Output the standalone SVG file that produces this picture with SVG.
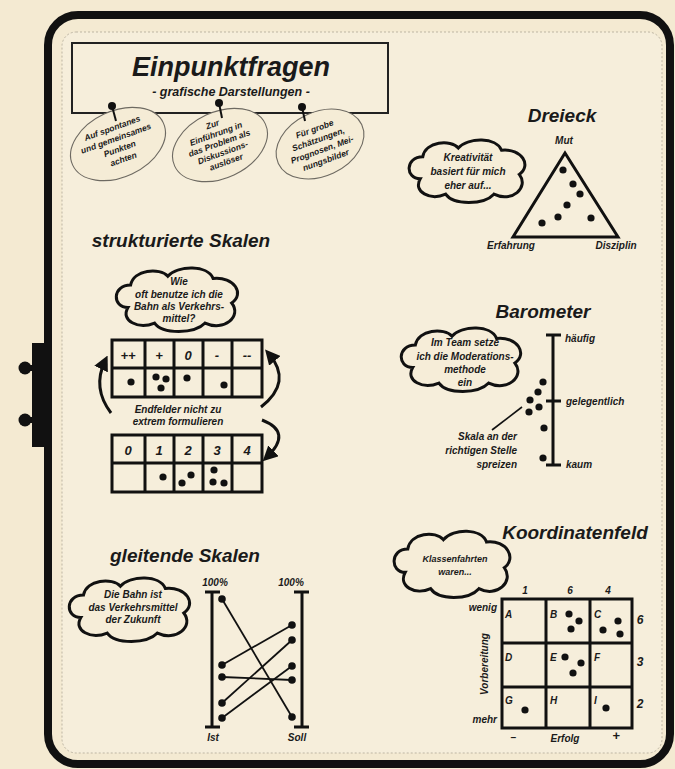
<svg xmlns="http://www.w3.org/2000/svg" width="675" height="769" viewBox="0 0 675 769">
<style>
text{font-family:"Liberation Sans",Arial,sans-serif;font-style:italic;font-weight:bold;fill:#1a1a1a}
.h{font-size:19px}
.s{font-size:10px}
.e{font-size:8.5px}
.m{text-anchor:middle}
.r{text-anchor:end}
.thick{fill:none;stroke:#111;stroke-width:3}
.thin{fill:none;stroke:#111;stroke-width:1.6}
.dot{fill:#111}
.ell{fill:#f5ecd6;stroke:#6e6a62;stroke-width:1.1}
.cl{fill:#f6edd8;stroke:#111;stroke-width:3}
</style>
<defs>
<symbol id="cloud" viewBox="0 0 100 60" preserveAspectRatio="none" overflow="visible">
<path class="cl" vector-effect="non-scaling-stroke" d="M12,38 C0,38 0,18 14,18 C16,4 36,2 42,10 C50,0 72,0 76,12 C92,10 100,26 90,34 C98,46 84,60 70,52 C62,62 38,62 32,52 C20,58 6,50 12,38 Z"/>
</symbol>
<marker id="ah" viewBox="0 0 10 10" refX="6" refY="5" markerWidth="5" markerHeight="5" orient="auto">
<path d="M0,0 L10,5 L0,10 Z" fill="#111"/>
</marker>
</defs>

<rect width="675" height="769" fill="#f4ead2"/>

<g id="frame">
<rect x="62" y="32" width="600" height="721" rx="14" fill="#f6eedb" stroke="#bdb5a3" stroke-width="1" stroke-dasharray="2 2"/>
<rect x="48" y="15" width="622" height="749" rx="30" fill="none" stroke="#111" stroke-width="8"/>
<rect x="32" y="343" width="16" height="104" fill="#111"/>
<rect x="24" y="365" width="10" height="6" fill="#111"/>
<rect x="24" y="417" width="10" height="6" fill="#111"/>
<circle cx="25" cy="368" r="6.5" fill="#111"/>
<circle cx="25" cy="420" r="6.5" fill="#111"/>
</g>

<g id="title">
<rect x="72" y="43" width="316" height="70" fill="none" stroke="#222" stroke-width="2"/>
<text x="231" y="76" class="m" style="font-size:27px">Einpunktfragen</text>
<text x="231" y="96" class="m" style="font-size:12.5px">- grafische Darstellungen -</text>
</g>

<g id="ellipse1">
<ellipse cx="118" cy="144" rx="50" ry="33" transform="rotate(-25 118 144)" class="ell"/>
<line x1="112" y1="106" x2="116" y2="121" stroke="#111" stroke-width="2"/>
<circle cx="112" cy="106" r="4" class="dot"/>
<g transform="rotate(-20 118 144)">
<text x="118" y="130" class="e m">Auf spontanes</text>
<text x="118" y="141" class="e m">und gemeinsames</text>
<text x="118" y="152" class="e m">Punkten</text>
<text x="118" y="163" class="e m">achten</text>
</g>
</g>

<g id="ellipse2">
<ellipse cx="220" cy="145" rx="50" ry="33" transform="rotate(-25 220 145)" class="ell"/>
<line x1="219" y1="103" x2="222" y2="118" stroke="#111" stroke-width="2"/>
<circle cx="219" cy="103" r="4" class="dot"/>
<g transform="rotate(-20 220 145)">
<text x="220" y="126" class="e m">Zur</text>
<text x="220" y="136" class="e m">Einführung in</text>
<text x="220" y="146" class="e m">das Problem als</text>
<text x="220" y="156" class="e m">Diskussions-</text>
<text x="220" y="166" class="e m">auslöser</text>
</g>
</g>

<g id="ellipse3">
<ellipse cx="320" cy="144" rx="46" ry="32" transform="rotate(-25 320 144)" class="ell"/>
<line x1="302" y1="107" x2="305" y2="121" stroke="#111" stroke-width="2"/>
<circle cx="302" cy="107" r="4" class="dot"/>
<g transform="rotate(-20 320 144)">
<text x="320" y="131" class="e m">Für grobe</text>
<text x="320" y="142" class="e m">Schätzungen,</text>
<text x="320" y="153" class="e m">Prognosen, Mei-</text>
<text x="320" y="164" class="e m">nungsbilder</text>
</g>
</g>

<g id="dreieck">
<text x="562" y="122" class="h m">Dreieck</text>
<use href="#cloud" x="405" y="137" width="127" height="66"/>
<text x="468" y="161" class="s m">Kreativität</text>
<text x="468" y="175" class="s m">basiert für mich</text>
<text x="468" y="189" class="s m">eher auf...</text>
<text x="564" y="144" class="s m">Mut</text>
<path d="M565,153 L513,237 L618,237 Z" class="thick" stroke-linejoin="miter"/>
<circle cx="563" cy="170" r="3.6" class="dot"/>
<circle cx="573" cy="184" r="3.6" class="dot"/>
<circle cx="580" cy="194" r="3.6" class="dot"/>
<circle cx="567" cy="205" r="3.6" class="dot"/>
<circle cx="558" cy="217" r="3.6" class="dot"/>
<circle cx="542" cy="223" r="3.6" class="dot"/>
<circle cx="591" cy="218" r="3.6" class="dot"/>
<text x="511" y="249" class="s m">Erfahrung</text>
<text x="616" y="249" class="s m">Disziplin</text>
</g>

<g id="strukturierte-skalen">
<text x="181" y="247" class="h m">strukturierte Skalen</text>
<use href="#cloud" x="112" y="265" width="133" height="67"/>
<text x="179" y="285" class="s m">Wie</text>
<text x="179" y="298" class="s m">oft benutze ich die</text>
<text x="179" y="310" class="s m">Bahn als Verkehrs-</text>
<text x="179" y="322" class="s m">mittel?</text>
<g id="table1">
<rect x="112" y="340" width="150" height="57" class="thick"/>
<path d="M112,368 H262 M145,340 V397 M174,340 V397 M203,340 V397 M232,340 V397" class="thick"/>
<text x="128" y="360" class="m" style="font-size:13px">++</text>
<text x="159" y="360" class="m" style="font-size:13px">+</text>
<text x="188" y="360" class="m" style="font-size:13px">0</text>
<text x="217" y="360" class="m" style="font-size:13px">-</text>
<text x="247" y="360" class="m" style="font-size:13px">--</text>
<circle cx="131" cy="382" r="3.6" class="dot"/>
<circle cx="156" cy="377" r="3.6" class="dot"/>
<circle cx="166" cy="379" r="3.6" class="dot"/>
<circle cx="161" cy="388" r="3.6" class="dot"/>
<circle cx="187" cy="378" r="3.6" class="dot"/>
<circle cx="224" cy="385" r="3.6" class="dot"/>
</g>
<text x="178" y="413" class="s m">Endfelder nicht zu</text>
<text x="178" y="425" class="s m">extrem formulieren</text>
<g id="table2">
<rect x="112" y="435" width="150" height="57" class="thick"/>
<path d="M112,463 H262 M145,435 V492 M174,435 V492 M203,435 V492 M232,435 V492" class="thick"/>
<text x="128" y="455" class="m" style="font-size:13px">0</text>
<text x="159" y="455" class="m" style="font-size:13px">1</text>
<text x="188" y="455" class="m" style="font-size:13px">2</text>
<text x="217" y="455" class="m" style="font-size:13px">3</text>
<text x="247" y="455" class="m" style="font-size:13px">4</text>
<circle cx="163" cy="477" r="3.6" class="dot"/>
<circle cx="182" cy="483" r="3.6" class="dot"/>
<circle cx="191" cy="475" r="3.6" class="dot"/>
<circle cx="214" cy="470" r="3.6" class="dot"/>
<circle cx="213" cy="482" r="3.6" class="dot"/>
<circle cx="224" cy="483" r="3.6" class="dot"/>
</g>
</g>

<g id="connectors">
<path d="M111,413 Q92,388 105,361" class="thick" marker-end="url(#ah)"/>
<path d="M261,407 Q293,382 269,354" class="thick" marker-end="url(#ah)"/>
<path d="M262,420 Q293,432 267,457" class="thick" marker-end="url(#ah)"/>
<line x1="522" y1="407" x2="492" y2="430" stroke="#111" stroke-width="1.6"/>
<g id="gleit-lines" stroke="#111" stroke-width="1.8">
<line x1="222" y1="599" x2="292" y2="717"/>
<line x1="222" y1="665" x2="292" y2="625"/>
<line x1="222" y1="677" x2="292" y2="680"/>
<line x1="222" y1="703" x2="292" y2="640"/>
<line x1="222" y1="718" x2="292" y2="666"/>
</g>
</g>

<g id="barometer">
<text x="543" y="318" class="h m">Barometer</text>
<use href="#cloud" x="397" y="325" width="131" height="67"/>
<text x="465" y="346" class="s m">Im Team setze</text>
<text x="465" y="360" class="s m">ich die Moderations-</text>
<text x="465" y="373" class="s m">methode</text>
<text x="465" y="386" class="s m">ein</text>
<path d="M553,335 V465 M546,335 H561 M546,465 H561 M546,401 H561" class="thick"/>
<text x="565" y="342" class="s">häufig</text>
<text x="566" y="405" class="s">gelegentlich</text>
<text x="566" y="468" class="s">kaum</text>
<circle cx="543" cy="382" r="3.6" class="dot"/>
<circle cx="538" cy="392" r="3.6" class="dot"/>
<circle cx="530" cy="400" r="3.6" class="dot"/>
<circle cx="539" cy="407" r="3.6" class="dot"/>
<circle cx="529" cy="412" r="3.6" class="dot"/>
<circle cx="544" cy="428" r="3.6" class="dot"/>
<circle cx="543" cy="458" r="3.6" class="dot"/>
<text x="517" y="440" class="s r">Skala an der</text>
<text x="517" y="454" class="s r">richtigen Stelle</text>
<text x="517" y="468" class="s r">spreizen</text>
</g>

<g id="gleitende-skalen">
<text x="185" y="562" class="h m">gleitende Skalen</text>
<use href="#cloud" x="65" y="575" width="132" height="67"/>
<text x="133" y="598" class="s m">Die Bahn ist</text>
<text x="133" y="611" class="s m">das Verkehrsmittel</text>
<text x="133" y="623" class="s m">der Zukunft</text>
<text x="215" y="586" class="s m">100%</text>
<text x="291" y="586" class="s m">100%</text>
<path d="M212,592 V727 M205,592 H220 M205,727 H220 M302,592 V727 M294,592 H309 M294,727 H309" class="thick"/>
<circle cx="222" cy="599" r="3.8" class="dot"/>
<circle cx="222" cy="665" r="3.8" class="dot"/>
<circle cx="222" cy="677" r="3.8" class="dot"/>
<circle cx="222" cy="703" r="3.8" class="dot"/>
<circle cx="222" cy="718" r="3.8" class="dot"/>
<circle cx="292" cy="625" r="3.8" class="dot"/>
<circle cx="292" cy="640" r="3.8" class="dot"/>
<circle cx="292" cy="666" r="3.8" class="dot"/>
<circle cx="292" cy="680" r="3.8" class="dot"/>
<circle cx="292" cy="717" r="3.8" class="dot"/>
<text x="213" y="741" class="s m">Ist</text>
<text x="297" y="741" class="s m">Soll</text>
</g>

<g id="koordinatenfeld">
<text x="575" y="539" class="h m">Koordinatenfeld</text>
<use href="#cloud" x="390" y="528" width="127" height="70"/>
<text x="455" y="562" class="s m" style="font-size:9px">Klassenfahrten</text>
<text x="455" y="575" class="s m" style="font-size:9px">waren...</text>
<rect x="502" y="599" width="130" height="129" class="thick"/>
<path d="M546,599 V728 M590,599 V728 M502,643 H632 M502,687 H632" class="thick"/>
<text x="525" y="594" class="s m">1</text>
<text x="570" y="594" class="s m">6</text>
<text x="608" y="594" class="s m">4</text>
<text x="640" y="624" class="s m" style="font-size:12px">6</text>
<text x="640" y="666" class="s m" style="font-size:12px">3</text>
<text x="640" y="708" class="s m" style="font-size:12px">2</text>
<text x="497" y="611" class="s r">wenig</text>
<text x="497" y="723" class="s r">mehr</text>
<text x="488" y="664" class="s m" transform="rotate(-90 488 664)">Vorbereitung</text>
<text x="513" y="741" class="s m">−</text>
<text x="565" y="742" class="s m">Erfolg</text>
<text x="616" y="740" class="s m" style="font-size:13px">+</text>
<g class="s">
<text x="505" y="618">A</text>
<text x="550" y="618">B</text>
<text x="594" y="618">C</text>
<text x="505" y="661">D</text>
<text x="550" y="661">E</text>
<text x="594" y="661">F</text>
<text x="505" y="704">G</text>
<text x="550" y="704">H</text>
<text x="594" y="704">I</text>
</g>
<circle cx="569" cy="614" r="3.6" class="dot"/>
<circle cx="579" cy="621" r="3.6" class="dot"/>
<circle cx="571" cy="629" r="3.6" class="dot"/>
<circle cx="618" cy="621" r="3.6" class="dot"/>
<circle cx="603" cy="630" r="3.6" class="dot"/>
<circle cx="620" cy="634" r="3.6" class="dot"/>
<circle cx="565" cy="657" r="3.6" class="dot"/>
<circle cx="581" cy="663" r="3.6" class="dot"/>
<circle cx="573" cy="673" r="3.6" class="dot"/>
<circle cx="525" cy="710" r="3.6" class="dot"/>
<circle cx="606" cy="708" r="3.6" class="dot"/>
</g>
</svg>
